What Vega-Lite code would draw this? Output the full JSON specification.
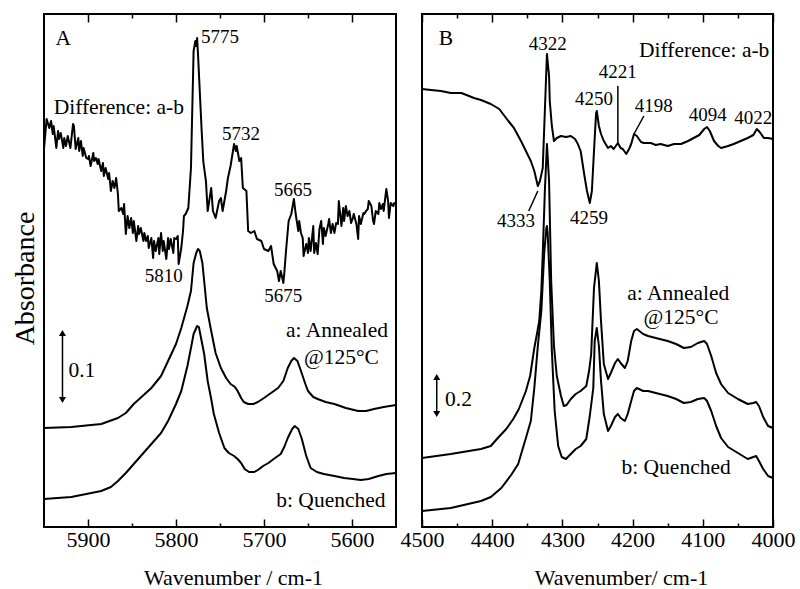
{
"$schema": "https://vega.github.io/schema/vega-lite/v6.json",
"padding": {"left": 10, "top": 12, "right": 5, "bottom": 5},
"background": "white",
"bounds": "flush",
"spacing": 26,
"config": {
 "font": "'Liberation Serif', 'Times New Roman', Times, serif",
 "view": {"stroke": "black", "strokeWidth": 2},
 "text": {"font": "'Liberation Serif', 'Times New Roman', Times, serif"},
 "axis": {"labelFont": "'Liberation Serif', 'Times New Roman', Times, serif", "titleFont": "'Liberation Serif', 'Times New Roman', Times, serif", "labelColor": "black", "titleColor": "black", "titleFontWeight": "normal", "grid": false, "domain": false, "tickColor": "black", "tickWidth": 1.5}
},
"datasets": {
 "specA": [
 {"series":"diff","wn":5950,"abs":378},{"series":"diff","wn":5947,"abs":408},{"series":"diff","wn":5944,"abs":399},{"series":"diff","wn":5942,"abs":406},{"series":"diff","wn":5940,"abs":393},{"series":"diff","wn":5939,"abs":401},{"series":"diff","wn":5936,"abs":379},{"series":"diff","wn":5934,"abs":396},{"series":"diff","wn":5933,"abs":388},{"series":"diff","wn":5931,"abs":394},{"series":"diff","wn":5928,"abs":379},{"series":"diff","wn":5927,"abs":389},{"series":"diff","wn":5925,"abs":381},{"series":"diff","wn":5923,"abs":391},{"series":"diff","wn":5920,"abs":379},{"series":"diff","wn":5917,"abs":403},{"series":"diff","wn":5916,"abs":401},{"series":"diff","wn":5914,"abs":378},{"series":"diff","wn":5911,"abs":389},{"series":"diff","wn":5910,"abs":376},{"series":"diff","wn":5908,"abs":386},{"series":"diff","wn":5906,"abs":371},{"series":"diff","wn":5905,"abs":379},{"series":"diff","wn":5902,"abs":369},{"series":"diff","wn":5900,"abs":368},{"series":"diff","wn":5899,"abs":371},{"series":"diff","wn":5897,"abs":361},{"series":"diff","wn":5894,"abs":374},{"series":"diff","wn":5893,"abs":366},{"series":"diff","wn":5891,"abs":369},{"series":"diff","wn":5889,"abs":363},{"series":"diff","wn":5888,"abs":368},{"series":"diff","wn":5885,"abs":356},{"series":"diff","wn":5883,"abs":364},{"series":"diff","wn":5882,"abs":351},{"series":"diff","wn":5880,"abs":359},{"series":"diff","wn":5877,"abs":348},{"series":"diff","wn":5876,"abs":354},{"series":"diff","wn":5874,"abs":336},{"series":"diff","wn":5872,"abs":346},{"series":"diff","wn":5870,"abs":339},{"series":"diff","wn":5868,"abs":349},{"series":"diff","wn":5866,"abs":333},{"series":"diff","wn":5865,"abs":316},{"series":"diff","wn":5862,"abs":319},{"series":"diff","wn":5860,"abs":313},{"series":"diff","wn":5859,"abs":323},{"series":"diff","wn":5857,"abs":293},{"series":"diff","wn":5855,"abs":311},{"series":"diff","wn":5853,"abs":299},{"series":"diff","wn":5851,"abs":309},{"series":"diff","wn":5849,"abs":294},{"series":"diff","wn":5848,"abs":306},{"series":"diff","wn":5845,"abs":286},{"series":"diff","wn":5843,"abs":301},{"series":"diff","wn":5842,"abs":293},{"series":"diff","wn":5840,"abs":299},{"series":"diff","wn":5837,"abs":286},{"series":"diff","wn":5836,"abs":294},{"series":"diff","wn":5834,"abs":286},{"series":"diff","wn":5832,"abs":291},{"series":"diff","wn":5831,"abs":279},{"series":"diff","wn":5828,"abs":289},{"series":"diff","wn":5826,"abs":269},{"series":"diff","wn":5825,"abs":286},{"series":"diff","wn":5823,"abs":276},{"series":"diff","wn":5820,"abs":289},{"series":"diff","wn":5819,"abs":273},{"series":"diff","wn":5817,"abs":294},{"series":"diff","wn":5815,"abs":276},{"series":"diff","wn":5814,"abs":286},{"series":"diff","wn":5811,"abs":268},{"series":"diff","wn":5809,"abs":289},{"series":"diff","wn":5808,"abs":278},{"series":"diff","wn":5806,"abs":288},{"series":"diff","wn":5803,"abs":274},{"series":"diff","wn":5802,"abs":289},{"series":"diff","wn":5800,"abs":288},{"series":"diff","wn":5798,"abs":291},{"series":"diff","wn":5797,"abs":263},{"series":"diff","wn":5794,"abs":279},{"series":"diff","wn":5792,"abs":296},{"series":"diff","wn":5791,"abs":311},{"series":"diff","wn":5789,"abs":313},{"series":"diff","wn":5786,"abs":319},{"series":"diff","wn":5783,"abs":359},{"series":"diff","wn":5780,"abs":476},{"series":"diff","wn":5778,"abs":486},{"series":"diff","wn":5777,"abs":481},{"series":"diff","wn":5776,"abs":489},{"series":"diff","wn":5775,"abs":473},{"series":"diff","wn":5771,"abs":399},{"series":"diff","wn":5769,"abs":366},{"series":"diff","wn":5768,"abs":359},{"series":"diff","wn":5766,"abs":346},{"series":"diff","wn":5764,"abs":316},{"series":"diff","wn":5760,"abs":339},{"series":"diff","wn":5758,"abs":316},{"series":"diff","wn":5755,"abs":309},{"series":"diff","wn":5751,"abs":326},{"series":"diff","wn":5749,"abs":329},{"series":"diff","wn":5747,"abs":316},{"series":"diff","wn":5743,"abs":336},{"series":"diff","wn":5741,"abs":349},{"series":"diff","wn":5738,"abs":361},{"series":"diff","wn":5734,"abs":383},{"series":"diff","wn":5732,"abs":376},{"series":"diff","wn":5731,"abs":381},{"series":"diff","wn":5728,"abs":366},{"series":"diff","wn":5726,"abs":369},{"series":"diff","wn":5724,"abs":339},{"series":"diff","wn":5720,"abs":336},{"series":"diff","wn":5718,"abs":296},{"series":"diff","wn":5715,"abs":294},{"series":"diff","wn":5711,"abs":296},{"series":"diff","wn":5708,"abs":288},{"series":"diff","wn":5703,"abs":286},{"series":"diff","wn":5700,"abs":278},{"series":"diff","wn":5695,"abs":276},{"series":"diff","wn":5692,"abs":281},{"series":"diff","wn":5689,"abs":263},{"series":"diff","wn":5685,"abs":256},{"series":"diff","wn":5683,"abs":246},{"series":"diff","wn":5681,"abs":256},{"series":"diff","wn":5678,"abs":244},{"series":"diff","wn":5677,"abs":253},{"series":"diff","wn":5675,"abs":276},{"series":"diff","wn":5672,"abs":306},{"series":"diff","wn":5669,"abs":313},{"series":"diff","wn":5666,"abs":328},{"series":"diff","wn":5664,"abs":313},{"series":"diff","wn":5661,"abs":296},{"series":"diff","wn":5660,"abs":306},{"series":"diff","wn":5658,"abs":294},{"series":"diff","wn":5656,"abs":289},{"series":"diff","wn":5655,"abs":271},{"series":"diff","wn":5652,"abs":283},{"series":"diff","wn":5650,"abs":274},{"series":"diff","wn":5649,"abs":289},{"series":"diff","wn":5647,"abs":276},{"series":"diff","wn":5644,"abs":301},{"series":"diff","wn":5643,"abs":274},{"series":"diff","wn":5641,"abs":284},{"series":"diff","wn":5639,"abs":273},{"series":"diff","wn":5637,"abs":298},{"series":"diff","wn":5635,"abs":306},{"series":"diff","wn":5633,"abs":283},{"series":"diff","wn":5632,"abs":299},{"series":"diff","wn":5630,"abs":291},{"series":"diff","wn":5627,"abs":303},{"series":"diff","wn":5626,"abs":308},{"series":"diff","wn":5624,"abs":294},{"series":"diff","wn":5622,"abs":303},{"series":"diff","wn":5620,"abs":294},{"series":"diff","wn":5618,"abs":304},{"series":"diff","wn":5616,"abs":303},{"series":"diff","wn":5615,"abs":326},{"series":"diff","wn":5612,"abs":301},{"series":"diff","wn":5610,"abs":319},{"series":"diff","wn":5609,"abs":306},{"series":"diff","wn":5607,"abs":321},{"series":"diff","wn":5605,"abs":311},{"series":"diff","wn":5603,"abs":316},{"series":"diff","wn":5601,"abs":304},{"series":"diff","wn":5599,"abs":309},{"series":"diff","wn":5598,"abs":313},{"series":"diff","wn":5595,"abs":303},{"series":"diff","wn":5593,"abs":288},{"series":"diff","wn":5592,"abs":311},{"series":"diff","wn":5590,"abs":303},{"series":"diff","wn":5587,"abs":314},{"series":"diff","wn":5586,"abs":313},{"series":"diff","wn":5584,"abs":316},{"series":"diff","wn":5582,"abs":318},{"series":"diff","wn":5581,"abs":326},{"series":"diff","wn":5578,"abs":321},{"series":"diff","wn":5576,"abs":306},{"series":"diff","wn":5575,"abs":303},{"series":"diff","wn":5573,"abs":316},{"series":"diff","wn":5570,"abs":313},{"series":"diff","wn":5569,"abs":324},{"series":"diff","wn":5567,"abs":318},{"series":"diff","wn":5565,"abs":323},{"series":"diff","wn":5564,"abs":316},{"series":"diff","wn":5561,"abs":338},{"series":"diff","wn":5559,"abs":326},{"series":"diff","wn":5558,"abs":309},{"series":"diff","wn":5556,"abs":324},{"series":"diff","wn":5553,"abs":321},{"series":"diff","wn":5552,"abs":324},{"series":"diff","wn":5550,"abs":323},
 {"series":"a","wn":5950,"abs":99},{"series":"a","wn":5919,"abs":100},{"series":"a","wn":5885,"abs":103},{"series":"a","wn":5866,"abs":109},{"series":"a","wn":5857,"abs":114},{"series":"a","wn":5848,"abs":123},{"series":"a","wn":5828,"abs":139},{"series":"a","wn":5817,"abs":151},{"series":"a","wn":5809,"abs":166},{"series":"a","wn":5800,"abs":183},{"series":"a","wn":5794,"abs":199},{"series":"a","wn":5787,"abs":221},{"series":"a","wn":5783,"abs":236},{"series":"a","wn":5780,"abs":264},{"series":"a","wn":5777,"abs":274},{"series":"a","wn":5775,"abs":278},{"series":"a","wn":5773,"abs":276},{"series":"a","wn":5770,"abs":264},{"series":"a","wn":5768,"abs":246},{"series":"a","wn":5765,"abs":219},{"series":"a","wn":5760,"abs":196},{"series":"a","wn":5755,"abs":174},{"series":"a","wn":5749,"abs":159},{"series":"a","wn":5743,"abs":149},{"series":"a","wn":5738,"abs":143},{"series":"a","wn":5733,"abs":140},{"series":"a","wn":5730,"abs":136},{"series":"a","wn":5726,"abs":129},{"series":"a","wn":5723,"abs":125},{"series":"a","wn":5718,"abs":123},{"series":"a","wn":5712,"abs":123},{"series":"a","wn":5707,"abs":125},{"series":"a","wn":5700,"abs":129},{"series":"a","wn":5692,"abs":134},{"series":"a","wn":5684,"abs":139},{"series":"a","wn":5678,"abs":146},{"series":"a","wn":5673,"abs":159},{"series":"a","wn":5669,"abs":166},{"series":"a","wn":5666,"abs":169},{"series":"a","wn":5662,"abs":166},{"series":"a","wn":5658,"abs":156},{"series":"a","wn":5653,"abs":143},{"series":"a","wn":5650,"abs":136},{"series":"a","wn":5644,"abs":130},{"series":"a","wn":5639,"abs":128},{"series":"a","wn":5630,"abs":125},{"series":"a","wn":5620,"abs":123},{"series":"a","wn":5607,"abs":119},{"series":"a","wn":5593,"abs":116},{"series":"a","wn":5584,"abs":116},{"series":"a","wn":5575,"abs":118},{"series":"a","wn":5564,"abs":120},{"series":"a","wn":5550,"abs":122},
 {"series":"b","wn":5950,"abs":28},{"series":"b","wn":5919,"abs":30},{"series":"b","wn":5885,"abs":36},{"series":"b","wn":5874,"abs":40},{"series":"b","wn":5866,"abs":46},{"series":"b","wn":5857,"abs":54},{"series":"b","wn":5848,"abs":63},{"series":"b","wn":5828,"abs":83},{"series":"b","wn":5817,"abs":94},{"series":"b","wn":5809,"abs":106},{"series":"b","wn":5800,"abs":123},{"series":"b","wn":5794,"abs":136},{"series":"b","wn":5787,"abs":161},{"series":"b","wn":5783,"abs":179},{"series":"b","wn":5780,"abs":193},{"series":"b","wn":5776,"abs":201},{"series":"b","wn":5774,"abs":200},{"series":"b","wn":5772,"abs":191},{"series":"b","wn":5768,"abs":173},{"series":"b","wn":5764,"abs":146},{"series":"b","wn":5760,"abs":128},{"series":"b","wn":5757,"abs":113},{"series":"b","wn":5751,"abs":94},{"series":"b","wn":5745,"abs":79},{"series":"b","wn":5740,"abs":74},{"series":"b","wn":5734,"abs":71},{"series":"b","wn":5730,"abs":68},{"series":"b","wn":5726,"abs":64},{"series":"b","wn":5722,"abs":58},{"series":"b","wn":5717,"abs":55},{"series":"b","wn":5711,"abs":55},{"series":"b","wn":5707,"abs":57},{"series":"b","wn":5701,"abs":61},{"series":"b","wn":5695,"abs":64},{"series":"b","wn":5689,"abs":68},{"series":"b","wn":5681,"abs":73},{"series":"b","wn":5677,"abs":80},{"series":"b","wn":5673,"abs":89},{"series":"b","wn":5668,"abs":98},{"series":"b","wn":5665,"abs":101},{"series":"b","wn":5661,"abs":98},{"series":"b","wn":5657,"abs":88},{"series":"b","wn":5652,"abs":71},{"series":"b","wn":5647,"abs":59},{"series":"b","wn":5640,"abs":55},{"series":"b","wn":5632,"abs":53},{"series":"b","wn":5620,"abs":51},{"series":"b","wn":5609,"abs":49},{"series":"b","wn":5599,"abs":48},{"series":"b","wn":5590,"abs":47},{"series":"b","wn":5581,"abs":48},{"series":"b","wn":5570,"abs":51},{"series":"b","wn":5561,"abs":53},{"series":"b","wn":5550,"abs":54}
 ],
 "specB": [
 {"series":"diff","wn":4500,"abs":438},{"series":"diff","wn":4487,"abs":437},{"series":"diff","wn":4473,"abs":436},{"series":"diff","wn":4459,"abs":434},{"series":"diff","wn":4444,"abs":434},{"series":"diff","wn":4433,"abs":431},{"series":"diff","wn":4426,"abs":429},{"series":"diff","wn":4416,"abs":427},{"series":"diff","wn":4402,"abs":423},{"series":"diff","wn":4390,"abs":418},{"series":"diff","wn":4377,"abs":406},{"series":"diff","wn":4369,"abs":399},{"series":"diff","wn":4359,"abs":386},{"series":"diff","wn":4352,"abs":376},{"series":"diff","wn":4345,"abs":366},{"series":"diff","wn":4340,"abs":356},{"series":"diff","wn":4335,"abs":341},{"series":"diff","wn":4332,"abs":346},{"series":"diff","wn":4328,"abs":359},{"series":"diff","wn":4325,"abs":416},{"series":"diff","wn":4322,"abs":473},{"series":"diff","wn":4319,"abs":451},{"series":"diff","wn":4318,"abs":426},{"series":"diff","wn":4315,"abs":401},{"series":"diff","wn":4312,"abs":386},{"series":"diff","wn":4308,"abs":389},{"series":"diff","wn":4302,"abs":391},{"series":"diff","wn":4295,"abs":390},{"series":"diff","wn":4288,"abs":391},{"series":"diff","wn":4282,"abs":388},{"series":"diff","wn":4278,"abs":383},{"series":"diff","wn":4274,"abs":376},{"series":"diff","wn":4269,"abs":353},{"series":"diff","wn":4265,"abs":336},{"series":"diff","wn":4261,"abs":324},{"series":"diff","wn":4258,"abs":336},{"series":"diff","wn":4255,"abs":376},{"series":"diff","wn":4252,"abs":414},{"series":"diff","wn":4251,"abs":416},{"series":"diff","wn":4248,"abs":401},{"series":"diff","wn":4245,"abs":393},{"series":"diff","wn":4241,"abs":386},{"series":"diff","wn":4235,"abs":379},{"series":"diff","wn":4231,"abs":381},{"series":"diff","wn":4227,"abs":378},{"series":"diff","wn":4221,"abs":384},{"series":"diff","wn":4217,"abs":379},{"series":"diff","wn":4214,"abs":378},{"series":"diff","wn":4209,"abs":373},{"series":"diff","wn":4205,"abs":378},{"series":"diff","wn":4202,"abs":383},{"series":"diff","wn":4198,"abs":393},{"series":"diff","wn":4194,"abs":391},{"series":"diff","wn":4188,"abs":385},{"series":"diff","wn":4184,"abs":384},{"series":"diff","wn":4174,"abs":384},{"series":"diff","wn":4167,"abs":382},{"series":"diff","wn":4160,"abs":383},{"series":"diff","wn":4150,"abs":381},{"series":"diff","wn":4141,"abs":383},{"series":"diff","wn":4131,"abs":383},{"series":"diff","wn":4121,"abs":386},{"series":"diff","wn":4113,"abs":389},{"series":"diff","wn":4105,"abs":392},{"series":"diff","wn":4098,"abs":398},{"series":"diff","wn":4094,"abs":400},{"series":"diff","wn":4090,"abs":396},{"series":"diff","wn":4084,"abs":386},{"series":"diff","wn":4078,"abs":381},{"series":"diff","wn":4074,"abs":379},{"series":"diff","wn":4064,"abs":381},{"series":"diff","wn":4056,"abs":383},{"series":"diff","wn":4046,"abs":386},{"series":"diff","wn":4036,"abs":389},{"series":"diff","wn":4028,"abs":392},{"series":"diff","wn":4023,"abs":398},{"series":"diff","wn":4019,"abs":395},{"series":"diff","wn":4013,"abs":389},{"series":"diff","wn":4007,"abs":389},{"series":"diff","wn":4000,"abs":388},
 {"series":"a","wn":4500,"abs":69},{"series":"a","wn":4459,"abs":73},{"series":"a","wn":4416,"abs":78},{"series":"a","wn":4402,"abs":81},{"series":"a","wn":4392,"abs":89},{"series":"a","wn":4380,"abs":98},{"series":"a","wn":4370,"abs":108},{"series":"a","wn":4362,"abs":118},{"series":"a","wn":4352,"abs":136},{"series":"a","wn":4346,"abs":151},{"series":"a","wn":4340,"abs":179},{"series":"a","wn":4336,"abs":194},{"series":"a","wn":4333,"abs":206},{"series":"a","wn":4330,"abs":236},{"series":"a","wn":4328,"abs":273},{"series":"a","wn":4325,"abs":336},{"series":"a","wn":4322,"abs":383},{"series":"a","wn":4319,"abs":346},{"series":"a","wn":4316,"abs":246},{"series":"a","wn":4312,"abs":181},{"series":"a","wn":4308,"abs":151},{"series":"a","wn":4302,"abs":131},{"series":"a","wn":4298,"abs":121},{"series":"a","wn":4294,"abs":122},{"series":"a","wn":4288,"abs":128},{"series":"a","wn":4281,"abs":133},{"series":"a","wn":4274,"abs":136},{"series":"a","wn":4266,"abs":141},{"series":"a","wn":4262,"abs":156},{"series":"a","wn":4259,"abs":173},{"series":"a","wn":4255,"abs":239},{"series":"a","wn":4251,"abs":264},{"series":"a","wn":4248,"abs":246},{"series":"a","wn":4245,"abs":206},{"series":"a","wn":4241,"abs":163},{"series":"a","wn":4235,"abs":148},{"series":"a","wn":4231,"abs":154},{"series":"a","wn":4225,"abs":164},{"series":"a","wn":4221,"abs":168},{"series":"a","wn":4217,"abs":164},{"series":"a","wn":4211,"abs":159},{"series":"a","wn":4207,"abs":166},{"series":"a","wn":4202,"abs":186},{"series":"a","wn":4198,"abs":196},{"series":"a","wn":4194,"abs":198},{"series":"a","wn":4185,"abs":193},{"series":"a","wn":4178,"abs":191},{"series":"a","wn":4167,"abs":189},{"series":"a","wn":4150,"abs":186},{"series":"a","wn":4138,"abs":183},{"series":"a","wn":4127,"abs":179},{"series":"a","wn":4117,"abs":180},{"series":"a","wn":4107,"abs":184},{"series":"a","wn":4098,"abs":186},{"series":"a","wn":4094,"abs":183},{"series":"a","wn":4088,"abs":171},{"series":"a","wn":4081,"abs":154},{"series":"a","wn":4074,"abs":143},{"series":"a","wn":4064,"abs":134},{"series":"a","wn":4050,"abs":128},{"series":"a","wn":4036,"abs":123},{"series":"a","wn":4028,"abs":124},{"series":"a","wn":4024,"abs":125},{"series":"a","wn":4020,"abs":121},{"series":"a","wn":4014,"abs":110},{"series":"a","wn":4007,"abs":101},{"series":"a","wn":4000,"abs":99},
 {"series":"b","wn":4500,"abs":16},{"series":"b","wn":4459,"abs":19},{"series":"b","wn":4416,"abs":26},{"series":"b","wn":4402,"abs":30},{"series":"b","wn":4387,"abs":39},{"series":"b","wn":4373,"abs":52},{"series":"b","wn":4363,"abs":63},{"series":"b","wn":4352,"abs":89},{"series":"b","wn":4345,"abs":106},{"series":"b","wn":4340,"abs":139},{"series":"b","wn":4335,"abs":181},{"series":"b","wn":4330,"abs":216},{"series":"b","wn":4326,"abs":273},{"series":"b","wn":4323,"abs":298},{"series":"b","wn":4322,"abs":301},{"series":"b","wn":4321,"abs":294},{"series":"b","wn":4318,"abs":246},{"series":"b","wn":4315,"abs":176},{"series":"b","wn":4311,"abs":116},{"series":"b","wn":4306,"abs":81},{"series":"b","wn":4301,"abs":70},{"series":"b","wn":4295,"abs":68},{"series":"b","wn":4288,"abs":73},{"series":"b","wn":4281,"abs":78},{"series":"b","wn":4274,"abs":81},{"series":"b","wn":4266,"abs":88},{"series":"b","wn":4261,"abs":111},{"series":"b","wn":4256,"abs":139},{"series":"b","wn":4254,"abs":186},{"series":"b","wn":4251,"abs":199},{"series":"b","wn":4248,"abs":181},{"series":"b","wn":4245,"abs":146},{"series":"b","wn":4241,"abs":113},{"series":"b","wn":4235,"abs":96},{"series":"b","wn":4231,"abs":101},{"series":"b","wn":4225,"abs":110},{"series":"b","wn":4221,"abs":113},{"series":"b","wn":4217,"abs":109},{"series":"b","wn":4211,"abs":106},{"series":"b","wn":4207,"abs":113},{"series":"b","wn":4202,"abs":126},{"series":"b","wn":4198,"abs":136},{"series":"b","wn":4194,"abs":139},{"series":"b","wn":4185,"abs":136},{"series":"b","wn":4178,"abs":136},{"series":"b","wn":4167,"abs":134},{"series":"b","wn":4150,"abs":131},{"series":"b","wn":4138,"abs":128},{"series":"b","wn":4127,"abs":124},{"series":"b","wn":4117,"abs":125},{"series":"b","wn":4107,"abs":128},{"series":"b","wn":4098,"abs":129},{"series":"b","wn":4094,"abs":126},{"series":"b","wn":4088,"abs":116},{"series":"b","wn":4081,"abs":101},{"series":"b","wn":4074,"abs":89},{"series":"b","wn":4064,"abs":80},{"series":"b","wn":4050,"abs":74},{"series":"b","wn":4036,"abs":68},{"series":"b","wn":4028,"abs":70},{"series":"b","wn":4024,"abs":71},{"series":"b","wn":4020,"abs":66},{"series":"b","wn":4014,"abs":58},{"series":"b","wn":4007,"abs":51},{"series":"b","wn":4000,"abs":49}
 ],
 "peaksA": [
 {"wn":5750,"abs":490,"label":"5775"},{"wn":5726,"abs":393,"label":"5732"},{"wn":5667,"abs":337,"label":"5665"},{"wn":5814,"abs":251,"label":"5810"},{"wn":5678,"abs":231,"label":"5675"}
 ],
 "notesA": [
 {"wn":5928,"abs":488,"label":"A"},{"wn":5865,"abs":419,"label":"Difference: a-b"},{"wn":5617,"abs":196,"label":"a: Annealed"},{"wn":5612,"abs":169,"label":"@125°C"},{"wn":5624,"abs":26,"label":"b: Quenched"},{"wn":5907,"abs":156,"label":"0.1"}
 ],
 "peaksB": [
 {"wn":4321,"abs":483,"label":"4322"},{"wn":4221,"abs":455,"label":"4221"},{"wn":4255,"abs":428,"label":"4250"},{"wn":4170,"abs":421,"label":"4198"},{"wn":4093,"abs":412,"label":"4094"},{"wn":4028,"abs":409,"label":"4022"},{"wn":4366,"abs":306,"label":"4333"},{"wn":4262,"abs":309,"label":"4259"}
 ],
 "notesB": [
 {"wn":4466,"abs":488,"label":"B"},{"wn":4098,"abs":476,"label":"Difference: a-b"},{"wn":4135,"abs":233,"label":"a: Annealed"},{"wn":4131,"abs":209,"label":"@125°C"},{"wn":4138,"abs":59,"label":"b: Quenched"},{"wn":4448,"abs":127,"label":"0.2"}
 ],
 "leadersB": [
 {"wn":4221,"wn2":4221,"abs":441,"abs2":383},{"wn":4184,"wn2":4198,"abs":411,"abs2":393},{"wn":4335,"wn2":4348,"abs":336,"abs2":316}
 ],
 "barA": [{"wn":5929,"abs":127,"abs2":194}],
 "headsA": [{"wn":5929,"abs":194,"end":"top"},{"wn":5929,"abs":127,"end":"bottom"}],
 "barB": [{"wn":4479,"abs":113,"abs2":150}],
 "headsB": [{"wn":4479,"abs":150,"end":"top"},{"wn":4479,"abs":113,"end":"bottom"}]
},
"hconcat": [
 {
  "width": 352, "height": 513,
  "resolve": {"axis": {"x": "independent"}},
  "encoding": {
   "y": {"field": "abs", "type": "quantitative", "scale": {"domain": [0, 513], "nice": false, "zero": false},
    "axis": {"ticks": false, "labels": false, "domain": false, "title": "Absorbance", "titleFontSize": 28, "titlePadding": 11, "titleBaseline": "alphabetic", "titleY": 264}}
  },
  "layer": [
   {"data": {"name": "specA"},
    "mark": {"type": "line", "color": "black", "strokeWidth": 2, "strokeJoin": "round"},
    "encoding": {
     "x": {"field": "wn", "type": "quantitative", "scale": {"domain": [5550, 5950], "reverse": true, "nice": false, "zero": false},
      "axis": {"orient": "bottom", "values": [5900, 5850, 5800, 5750, 5700, 5650, 5600], "format": "d",
       "labelExpr": "datum.value % 100 === 0 ? datum.label : ''",
       "tickSize": {"condition": {"test": "datum.value % 100 === 0", "value": -8}, "value": -4},
       "labelFontSize": 22, "labelPadding": 10, "labelFlush": false, "labelOverlap": false,
       "title": "Wavenumber / cm-1", "titleFontSize": 22, "titleX": 189, "titleY": 57, "titleBaseline": "alphabetic", "titleAlign": "center"}},
     "detail": {"field": "series"}
    }},
   {"data": {"name": "peaksA"},
    "mark": {"type": "text", "fontSize": 19, "align": "center", "baseline": "middle", "color": "black"},
    "encoding": {
     "x": {"field": "wn", "type": "quantitative", "scale": {"domain": [5550, 5950], "reverse": true, "nice": false, "zero": false},
      "axis": {"orient": "top", "values": [5900, 5850, 5800, 5750, 5700, 5650, 5600], "labels": false, "title": null,
       "tickSize": {"condition": {"test": "datum.value % 100 === 0", "value": -8}, "value": -4}}},
     "text": {"field": "label"}
    }},
   {"data": {"name": "notesA"},
    "mark": {"type": "text", "fontSize": 21.5, "align": "center", "baseline": "middle", "color": "black"},
    "encoding": {
     "x": {"field": "wn", "type": "quantitative", "scale": {"domain": [5550, 5950], "reverse": true, "nice": false, "zero": false}, "axis": null},
     "text": {"field": "label"}
    }},
   {"data": {"name": "barA"},
    "mark": {"type": "rule", "color": "black", "strokeWidth": 1.5},
    "encoding": {
     "x": {"field": "wn", "type": "quantitative", "scale": {"domain": [5550, 5950], "reverse": true, "nice": false, "zero": false}, "axis": null},
     "y2": {"field": "abs2"}
    }},
   {"data": {"name": "headsA"},
    "mark": {"type": "point", "filled": true, "color": "black", "opacity": 1, "size": 50},
    "encoding": {
     "x": {"field": "wn", "type": "quantitative", "scale": {"domain": [5550, 5950], "reverse": true, "nice": false, "zero": false}, "axis": null},
     "shape": {"field": "end", "type": "nominal", "scale": {"domain": ["top", "bottom"], "range": ["triangle-up", "triangle-down"]}, "legend": null}
    }}
  ]
 },
 {
  "width": 351, "height": 513,
  "resolve": {"axis": {"x": "independent"}},
  "encoding": {
   "y": {"field": "abs", "type": "quantitative", "scale": {"domain": [0, 513], "nice": false, "zero": false}, "axis": null}
  },
  "layer": [
   {"data": {"name": "specB"},
    "mark": {"type": "line", "color": "black", "strokeWidth": 2, "strokeJoin": "round"},
    "encoding": {
     "x": {"field": "wn", "type": "quantitative", "scale": {"domain": [4000, 4500], "reverse": true, "nice": false, "zero": false},
      "axis": {"orient": "bottom", "values": [4500, 4450, 4400, 4350, 4300, 4250, 4200, 4150, 4100, 4050, 4000], "format": "d",
       "labelExpr": "datum.value % 100 === 0 ? datum.label : ''",
       "tickSize": {"condition": {"test": "datum.value % 100 === 0", "value": -8}, "value": -4},
       "labelFontSize": 22, "labelPadding": 10, "labelFlush": false, "labelOverlap": false,
       "title": "Wavenumber/ cm-1", "titleFontSize": 22, "titleX": 199, "titleY": 57, "titleBaseline": "alphabetic", "titleAlign": "center"}},
     "detail": {"field": "series"}
    }},
   {"data": {"name": "peaksB"},
    "mark": {"type": "text", "fontSize": 19, "align": "center", "baseline": "middle", "color": "black"},
    "encoding": {
     "x": {"field": "wn", "type": "quantitative", "scale": {"domain": [4000, 4500], "reverse": true, "nice": false, "zero": false},
      "axis": {"orient": "top", "values": [4500, 4450, 4400, 4350, 4300, 4250, 4200, 4150, 4100, 4050, 4000], "labels": false, "title": null,
       "tickSize": {"condition": {"test": "datum.value % 100 === 0", "value": -8}, "value": -4}}},
     "text": {"field": "label"}
    }},
   {"data": {"name": "notesB"},
    "mark": {"type": "text", "fontSize": 21.5, "align": "center", "baseline": "middle", "color": "black"},
    "encoding": {
     "x": {"field": "wn", "type": "quantitative", "scale": {"domain": [4000, 4500], "reverse": true, "nice": false, "zero": false}, "axis": null},
     "text": {"field": "label"}
    }},
   {"data": {"name": "leadersB"},
    "mark": {"type": "rule", "color": "black", "strokeWidth": 1.5},
    "encoding": {
     "x": {"field": "wn", "type": "quantitative", "scale": {"domain": [4000, 4500], "reverse": true, "nice": false, "zero": false}, "axis": null},
     "x2": {"field": "wn2"},
     "y2": {"field": "abs2"}
    }},
   {"data": {"name": "barB"},
    "mark": {"type": "rule", "color": "black", "strokeWidth": 1.5},
    "encoding": {
     "x": {"field": "wn", "type": "quantitative", "scale": {"domain": [4000, 4500], "reverse": true, "nice": false, "zero": false}, "axis": null},
     "y2": {"field": "abs2"}
    }},
   {"data": {"name": "headsB"},
    "mark": {"type": "point", "filled": true, "color": "black", "opacity": 1, "size": 50},
    "encoding": {
     "x": {"field": "wn", "type": "quantitative", "scale": {"domain": [4000, 4500], "reverse": true, "nice": false, "zero": false}, "axis": null},
     "shape": {"field": "end", "type": "nominal", "scale": {"domain": ["top", "bottom"], "range": ["triangle-up", "triangle-down"]}, "legend": null}
    }}
  ]
 }
]
}
